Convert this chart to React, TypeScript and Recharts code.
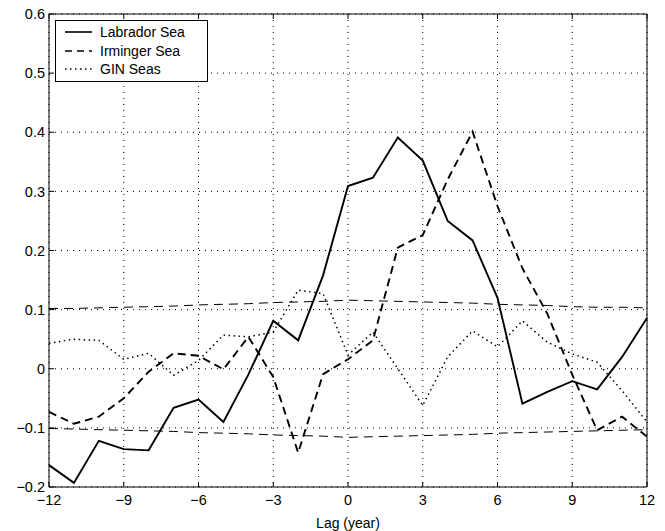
import { LineChart, Line, XAxis, YAxis, CartesianGrid } from "recharts";

// lag in years
const lags = [-12, -11, -10, -9, -8, -7, -6, -5, -4, -3, -2, -1, 0, 1, 2, 3, 4, 5, 6, 7, 8, 9, 10, 11, 12];

const labrador = [-0.163, -0.193, -0.122, -0.136, -0.138, -0.066, -0.052, -0.09, -0.01, 0.081, 0.048, 0.158, 0.309, 0.323, 0.391, 0.352, 0.25, 0.217, 0.12, -0.059, -0.039, -0.021, -0.035, 0.02, 0.086];
const irminger = [-0.073, -0.093, -0.081, -0.05, -0.005, 0.026, 0.022, -0.001, 0.054, -0.014, -0.142, -0.009, 0.016, 0.048, 0.205, 0.226, 0.32, 0.401, 0.275, 0.17, 0.093, -0.01, -0.104, -0.081, -0.115];
const gin = [0.043, 0.05, 0.048, 0.016, 0.026, -0.011, 0.014, 0.057, 0.054, 0.062, 0.133, 0.127, 0.023, 0.062, 0.0, -0.062, 0.02, 0.064, 0.037, 0.081, 0.045, 0.025, 0.011, -0.037, -0.09];

// significance levels (thin dashed)
const sigUpper = [0.102, 0.102, 0.103, 0.104, 0.105, 0.106, 0.108, 0.109, 0.11, 0.112, 0.113, 0.114, 0.116, 0.115, 0.114, 0.113, 0.112, 0.111, 0.109, 0.108, 0.107, 0.105, 0.104, 0.104, 0.103];
const sigLower = [-0.101, -0.102, -0.103, -0.104, -0.105, -0.106, -0.108, -0.109, -0.11, -0.112, -0.113, -0.114, -0.116, -0.115, -0.114, -0.113, -0.112, -0.111, -0.109, -0.108, -0.107, -0.106, -0.105, -0.104, -0.103];

const xTicks = [-12, -9, -6, -3, 0, 3, 6, 9, 12];
const yTicks = [-0.2, -0.1, 0, 0.1, 0.2, 0.3, 0.4, 0.5, 0.6];

const seriesNames = ["Labrador Sea", "Irminger Sea", "GIN Seas"];

const data = lags.map((lag, i) => ({
  lag,
  labrador: labrador[i],
  irminger: irminger[i],
  gin: gin[i],
  up: sigUpper[i],
  lo: sigLower[i],
}));

const font = "'Liberation Sans', Arial, sans-serif";
const minus = (s: string) => s.replace("-", "\u2212");

const fmtY = (v: number) => (Math.abs(v) < 1e-9 ? "0" : minus(v.toFixed(1)));
const fmtX = (v: number) => minus(String(v));

const dashes = ["", "7 5", "1.5 3.5"];

function LegendBox() {
  return (
    <div
      style={{
        position: "absolute",
        left: 55,
        top: 20,
        border: "1px solid #000",
        background: "#fff",
        width: 151,
        padding: "2px 0 2px 0",
        fontFamily: font,
        fontSize: 14,
        lineHeight: "18.5px",
      }}
    >
      {seriesNames.map((name, i) => (
        <div key={name} style={{ display: "flex", alignItems: "center" }}>
          <svg width={44} height={10} style={{ marginLeft: 8 }}>
            <line x1={1} x2={28} y1={5} y2={5} stroke="#000" strokeWidth={1.6} strokeDasharray={dashes[i]} />
          </svg>
          <span style={{ marginLeft: -8 }}>{name}</span>
        </div>
      ))}
    </div>
  );
}

const noTick = () => <g />;

export default function App() {
  return (
    <div style={{ position: "absolute", left: 0, top: 0, width: 665, height: 531, background: "#fff" }}>
      <LineChart width={665} height={531} data={data} margin={{ top: 13, right: 17, left: 0, bottom: 0 }}>
        <CartesianGrid stroke="#000" strokeDasharray="1 5" strokeWidth={1} />
        <XAxis
          dataKey="lag"
          type="number"
          domain={[-12, 12]}
          ticks={xTicks}
          tickFormatter={fmtX}
          tickSize={-5}
          tickMargin={13}
          height={44}
          stroke="#000"
          tick={{ fill: "#000", fontSize: 14.5, fontFamily: font }}
          label={{ value: "Lag (year)", position: "insideBottom", offset: 3, fill: "#000", fontSize: 14, fontFamily: font }}
        />
        <XAxis xAxisId="top" dataKey="lag" type="number" orientation="top" domain={[-12, 12]} ticks={xTicks} tickSize={-5} height={1} stroke="#000" tick={noTick} />
        <YAxis
          domain={[-0.2, 0.6]}
          ticks={yTicks}
          tickFormatter={fmtY}
          tickSize={-5}
          tickMargin={9}
          width={49}
          stroke="#000"
          tick={{ fill: "#000", fontSize: 14.5, fontFamily: font }}
          allowDataOverflow
        />
        <YAxis yAxisId="right" orientation="right" domain={[-0.2, 0.6]} ticks={yTicks} tickSize={-5} width={1} stroke="#000" tick={noTick} />
        <Line dataKey="up" stroke="#000" strokeWidth={1} strokeDasharray="9 6" dot={false} isAnimationActive={false} />
        <Line dataKey="lo" stroke="#000" strokeWidth={1} strokeDasharray="9 6" dot={false} isAnimationActive={false} />
        <Line dataKey="gin" stroke="#000" strokeWidth={1.5} strokeDasharray="1.5 3.5" dot={false} isAnimationActive={false} />
        <Line dataKey="irminger" stroke="#000" strokeWidth={1.9} strokeDasharray="8 5" dot={false} isAnimationActive={false} />
        <Line dataKey="labrador" stroke="#000" strokeWidth={1.9} dot={false} isAnimationActive={false} />
      </LineChart>
      <LegendBox />
    </div>
  );
}
